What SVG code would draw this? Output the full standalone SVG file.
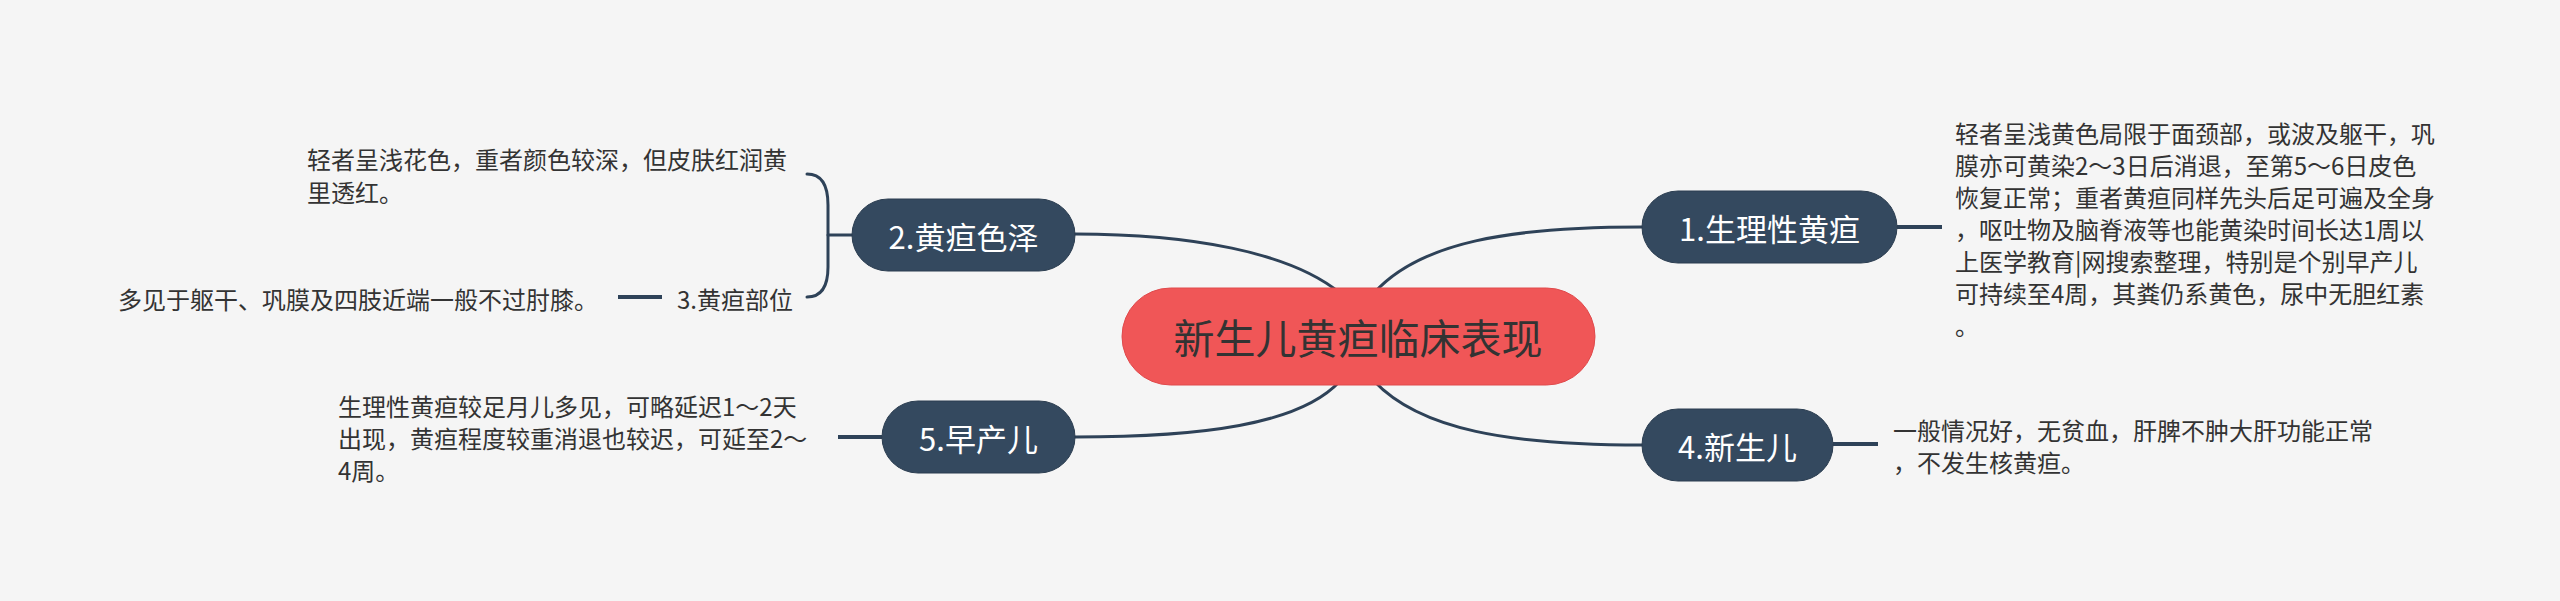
<svg xmlns="http://www.w3.org/2000/svg" width="2560" height="601" viewBox="0 0 2560 601">
<style>
.bg{fill:#F5F5F5}
.line{fill:none;stroke:#2E4258;stroke-width:3;stroke-linecap:round}
.stub{fill:none;stroke:#2E4258;stroke-width:4}
.node{fill:#34495F;stroke:#2B3D50;stroke-width:1}
.ntext{fill:#FFFFFF;font-family:"Noto Sans CJK SC","Noto Sans",sans-serif;font-size:31px;text-anchor:middle;dominant-baseline:central}
.ctext{fill:#333333;font-family:"Noto Sans CJK SC","Noto Sans",sans-serif;font-size:41px;text-anchor:middle;dominant-baseline:central}
.ptext{fill:#333333;font-family:"Noto Sans CJK SC","Noto Sans",sans-serif;font-size:24px;dominant-baseline:central}
</style>
<rect class="bg" x="0" y="0" width="2560" height="601"/>
<g id="connectors">
<path class="line" d="M1340,293 C1290,252 1190,234 1075,234"/>
<path class="line" d="M1374,293 C1420,242 1510,227 1642,227"/>
<path class="line" d="M1340,381 C1300,425 1200,437 1075,437"/>
<path class="line" d="M1374,381 C1420,430 1510,445 1642,445"/>
<path class="stub" d="M1897,227 L1942,227"/>
<path class="stub" d="M1833,444 L1878,444"/>
<path class="stub" d="M882,437 L838,437"/>
<path class="line" d="M852,235 L828,235"/>
<path class="line" d="M807,174 C822,174 828,186 828,205 L828,267 C828,286 822,297 807,297"/>
<path class="stub" d="M662,297 L618,297"/>
</g>
<g id="center">
<rect x="1122" y="288" width="473" height="97" rx="48.5" fill="#F05657" stroke="#E04A4C" stroke-width="1"/>
<text class="ctext" x="1358" y="336">新生儿黄疸临床表现</text>
</g>
<g id="node1">
<rect class="node" x="1642" y="191" width="255" height="72" rx="36"/>
<text class="ntext" x="1769.5" y="227">1.生理性黄疸</text>
</g>
<g id="node1-detail">
<text class="ptext" x="1955" y="132">轻者呈浅黄色局限于面颈部，或波及躯干，巩</text>
<text class="ptext" x="1955" y="164">膜亦可黄染2～3日后消退，至第5～6日皮色</text>
<text class="ptext" x="1955" y="196">恢复正常；重者黄疸同样先头后足可遍及全身</text>
<text class="ptext" x="1955" y="228">，呕吐物及脑脊液等也能黄染时间长达1周以</text>
<text class="ptext" x="1955" y="260">上医学教育|网搜索整理，特别是个别早产儿</text>
<text class="ptext" x="1955" y="292">可持续至4周，其粪仍系黄色，尿中无胆红素</text>
<text class="ptext" x="1955" y="324">。</text>
</g>
<g id="node2">
<rect class="node" x="852" y="199" width="223" height="72" rx="36"/>
<text class="ntext" x="963.5" y="235">2.黄疸色泽</text>
</g>
<g id="node2-detail">
<text class="ptext" x="307" y="158">轻者呈浅花色，重者颜色较深，但皮肤红润黄</text>
<text class="ptext" x="307" y="191">里透红。</text>
</g>
<g id="node3">
<text class="ptext" x="677" y="298">3.黄疸部位</text>
</g>
<g id="node3-detail">
<text class="ptext" x="118" y="298">多见于躯干、巩膜及四肢近端一般不过肘膝。</text>
</g>
<g id="node4">
<rect class="node" x="1642" y="409" width="191" height="72" rx="36"/>
<text class="ntext" x="1737.5" y="445">4.新生儿</text>
</g>
<g id="node4-detail">
<text class="ptext" x="1893" y="429">一般情况好，无贫血，肝脾不肿大肝功能正常</text>
<text class="ptext" x="1893" y="461">，不发生核黄疸。</text>
</g>
<g id="node5">
<rect class="node" x="882" y="401" width="193" height="72" rx="36"/>
<text class="ntext" x="978.5" y="437">5.早产儿</text>
</g>
<g id="node5-detail">
<text class="ptext" x="338" y="405">生理性黄疸较足月儿多见，可略延迟1～2天</text>
<text class="ptext" x="338" y="437">出现，黄疸程度较重消退也较迟，可延至2～</text>
<text class="ptext" x="338" y="469">4周。</text>
</g>
</svg>
